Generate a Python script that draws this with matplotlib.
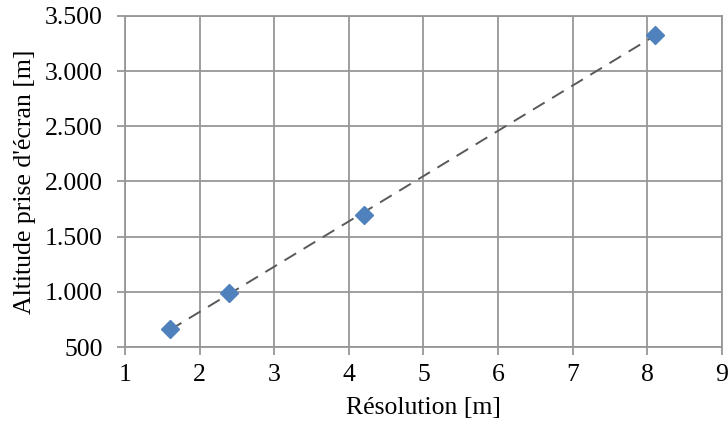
import numpy as np
import matplotlib.pyplot as plt
from matplotlib.ticker import FuncFormatter

# data
resolution = [1.6, 2.4, 4.2, 8.1]
altitude = [663, 989, 1696, 3330]

x_ticks = [1, 2, 3, 4, 5, 6, 7, 8, 9]
y_ticks = [500, 1000, 1500, 2000, 2500, 3000, 3500]

plt.rcParams['font.family'] = ['Liberation Serif', 'DejaVu Serif']

fig = plt.figure(figsize=(7.28, 4.25), dpi=100)
ax = fig.add_axes([0.1717, 0.1835, 0.82, 0.779])

grid_col = '#979797'

# linear trendline through the points
coef = np.polyfit(resolution, altitude, 1)
xs = np.array([min(resolution), max(resolution)])
ax.plot(xs, np.polyval(coef, xs), color='#595959', linewidth=1.4,
        dashes=(7, 4.5), zorder=3)

ax.plot(resolution, altitude, linestyle='none', marker='D', markersize=9.5,
        color='#4F81BD', markeredgecolor='#4F81BD', zorder=4)

ax.set_xlim(1, 9)
ax.set_ylim(500, 3500)
ax.set_xticks(x_ticks)
ax.set_yticks(y_ticks)
ax.yaxis.set_major_formatter(FuncFormatter(lambda v, p: f"{int(v):,}".replace(',', '.')))

ax.grid(True, color=grid_col, linewidth=1.3)
ax.set_axisbelow(True)
for s in ax.spines.values():
    s.set_color(grid_col)
    s.set_linewidth(1.3)

ax.tick_params(axis='both', direction='out', length=6, width=1.3, color=grid_col,
               labelsize=18.5, labelcolor='black')
ax.tick_params(axis='y', pad=10)
ax.tick_params(axis='x', pad=6)

ax.set_xlabel('Résolution [m]', fontsize=18.5, labelpad=8)
ax.set_ylabel("Altitude prise d'écran [m]", fontsize=18.5, labelpad=6)

fig.savefig('out.png', dpi=100, facecolor='white')
